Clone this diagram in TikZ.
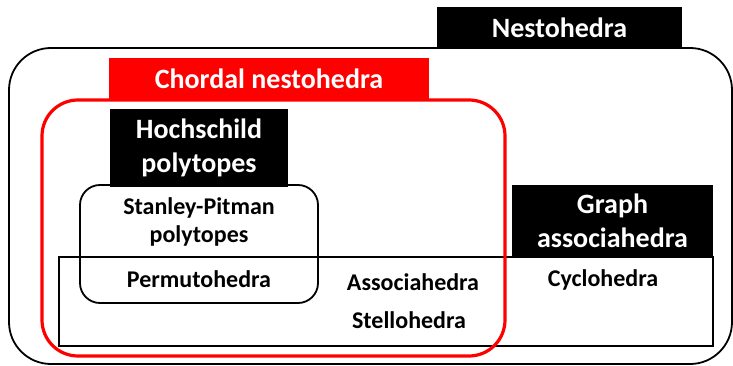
\documentclass[tikz,border=0pt]{standalone}
\usepackage{fontspec}
\setmainfont{Carlito}
\begin{document}
\begin{tikzpicture}[x=1pt,y=-1pt,
  title/.style={fill=black,text=white,font=\bfseries\fontsize{28}{34}\selectfont,align=center,inner sep=0pt},
  label/.style={font=\bfseries\fontsize{24}{28}\selectfont,align=center,inner sep=0pt},
  frame/.style={draw=black,line width=1.8pt}]
\useasboundingbox (0,0) rectangle (733,366);
% outer nestohedra region
\draw[frame,rounded corners=42pt] (9,48) rectangle (732,364);
% plain rectangle
\draw[frame] (59,257) rectangle (713,346);
% Stanley-Pitman region
\draw[frame,rounded corners=20pt] (80,185) rectangle (318,303);
% chordal region
\draw[draw=red,line width=3.2pt,rounded corners=36pt] (42,100) rectangle (505,356);
% title boxes
\node[title,minimum width=245pt,minimum height=41pt] (nest) at (559.5,27.5) {Nestohedra};
\node[title,fill=red,minimum width=320pt,minimum height=41pt] (chord) at (269,78.5) {Chordal nestohedra};
\node[title,minimum width=178pt,minimum height=78pt] (hoch) at (199,148) {Hochschild\\polytopes};
\node[title,minimum width=201pt,minimum height=72pt] (graph) at (612.5,221) {Graph\\associahedra};
% labels
\node[label] (stan) at (199,222) {Stanley-Pitman\\polytopes};
\node[label] (perm) at (199,279) {Permutohedra};
\node[label] (asso) at (413,282) {Associahedra};
\node[label] (stel) at (409,320) {Stellohedra};
\node[label] (cycl) at (603,280) {Cyclohedra};
\end{tikzpicture}
\end{document}
